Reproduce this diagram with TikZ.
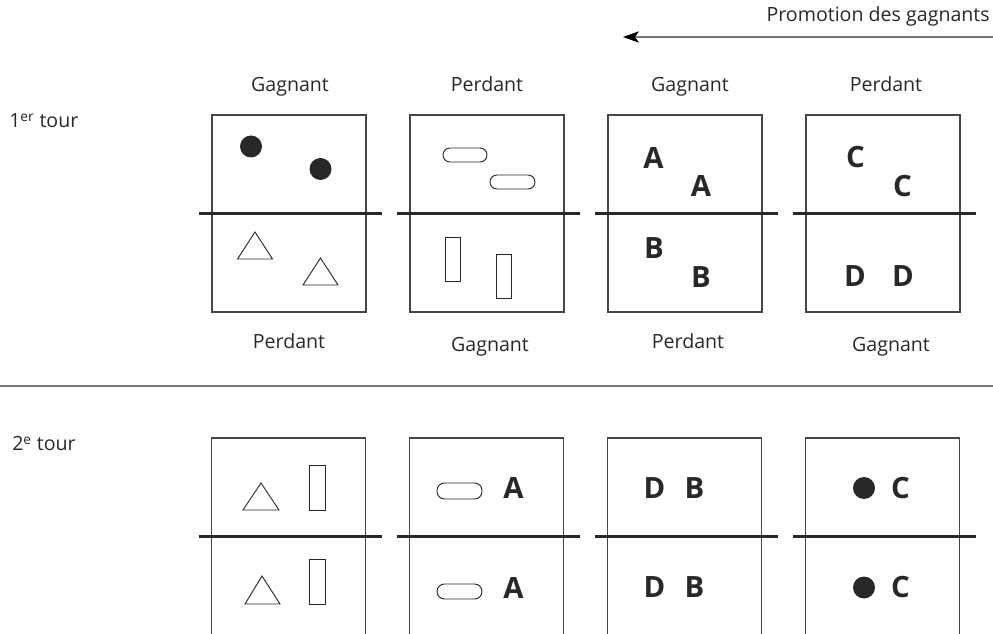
\documentclass[tikz,border=0pt]{standalone}
\usepackage{fontspec}
\setmainfont{Open Sans}
\usetikzlibrary{arrows.meta,positioning}
\definecolor{boxgray}{RGB}{70,70,70}
\definecolor{inkgray}{RGB}{40,40,40}
\definecolor{rulegray}{RGB}{120,120,120}

\tikzset{
  panel/.style={draw=boxgray, line width=0.9pt, outer sep=0pt, minimum width=115.5pt, minimum height=147.75pt},
  divider/.style={draw=inkgray, line width=1.7pt},
  caption/.style={font=\fontsize{14.7}{17}\selectfont, text=inkgray, anchor=base, inner sep=0pt},
  token/.style={font=\fontsize{22}{25}\selectfont\bfseries, text=inkgray, inner sep=0pt},
  outline/.style={draw=inkgray, line width=0.7pt},
  dot/.style={fill=inkgray},
}

\begin{document}
\begin{tikzpicture}[x=0.75pt, y=-0.75pt, node distance=33pt]
    \useasboundingbox (0,0) rectangle (993,634);

    % round labels
    \node[caption, anchor=base west] (tour1) at (9,128) {1\textsuperscript{er} tour};
    \node[caption, anchor=base west] (tour2) at (12,451) {2\textsuperscript{e} tour};

    % promotion arrow
    \node[caption, anchor=base east] (promo) at (990,22) {Promotion des gagnants};
    \coordinate (promoStart) at (993,37);
    \coordinate (promoEnd) at (623,37);
    \draw[rulegray, line width=0.8pt, -{Stealth[length=12pt, width=8.5pt, inset=3pt, color=black]}] (promoStart) -- (promoEnd);

    % first round
    \node[panel] (first1) at (289,213.5) {};
    \node[panel, right=33pt of first1] (first2) {};
    \node[panel, right=33pt of first2] (first3) {};
    \node[panel, right=33pt of first3] (first4) {};

    \node[caption] (topGag1) at (290,92) {Gagnant};
    \node[caption] (topPer1) at (487,92) {Perdant};
    \node[caption] (topGag2) at (690,92) {Gagnant};
    \node[caption] (topPer2) at (886,92) {Perdant};
    \node[caption] (botPer1) at (289,349) {Perdant};
    \node[caption] (botGag1) at (490,352) {Gagnant};
    \node[caption] (botPer2) at (688,349) {Perdant};
    \node[caption] (botGag2) at (891,352) {Gagnant};

    % circles and triangles
    \fill[dot] (251,146.5) circle[radius=8.25pt];
    \fill[dot] (320.5,169) circle[radius=8.25pt];
    \draw[outline] (255,232) -- (272.5,259) -- (237.5,259) -- cycle;
    \draw[outline] (320.5,258) -- (338,285) -- (303,285) -- cycle;
    % ovals and bars
    \draw[outline, rounded corners=5.2pt] (443,148) rectangle (487,162);
    \draw[outline, rounded corners=5.2pt] (490,175) rectangle (535,189);
    \draw[outline] (445,237) rectangle (460,281);
    \draw[outline] (496,254) rectangle (511,298);
    % letters
    \node[token] (a1) at (653.5,158) {A};
    \node[token] (a2) at (701,186) {A};
    \node[token] (b1) at (654,248.5) {B};
    \node[token] (b2) at (701,277) {B};
    \node[token] (c1) at (855.5,157.5) {C};
    \node[token] (c2) at (902.5,186) {C};
    \node[token] (d1) at (855,276.5) {D};
    \node[token] (d2) at (903,276.5) {D};

    % separator between rounds
    \coordinate (sepL) at (0,386);
    \coordinate (sepR) at (993,386);
    \draw[rulegray, line width=0.8pt] (sepL) -- (sepR);

    % second round
    \begin{scope}
      \clip (0,0) rectangle (993,634);
      \node[panel] (second1) at (288.5,536.5) {};
      \node[panel, right=33pt of second1] (second2) {};
      \node[panel, right=33pt of second2] (second3) {};
      \node[panel, right=33pt of second3] (second4) {};
    \end{scope}

    \draw[outline] (261,483) -- (279,510) -- (243,510) -- cycle;
    \draw[outline] (262,576) -- (280,604) -- (245,604) -- cycle;
    \draw[outline] (309,465) rectangle (325,510);
    \draw[outline] (309,559) rectangle (325,604);
    \draw[outline, rounded corners=5.6pt] (437,483) rectangle (482,499);
    \draw[outline, rounded corners=5.6pt] (437,584) rectangle (482,599);
    \node[token] (a3) at (513.5,488) {A};
    \node[token] (a4) at (513.5,587.5) {A};
    \node[token] (d3) at (654.5,488) {D};
    \node[token] (b3) at (694.5,488) {B};
    \node[token] (d4) at (654.5,587.5) {D};
    \node[token] (b4) at (694.5,587.5) {B};
    \fill[dot] (864,488) circle[radius=8.25pt];
    \fill[dot] (864,587.5) circle[radius=8.25pt];
    \node[token] (c3) at (900.5,488) {C};
    \node[token] (c4) at (900.5,587.5) {C};

    % dividers
    \foreach \b in {first1,first2,first3,first4,second1,second2,second3,second4}
      \draw[divider] ([xshift=-9.5pt]\b.west) -- ([xshift=12pt]\b.east);
\end{tikzpicture}
\end{document}
